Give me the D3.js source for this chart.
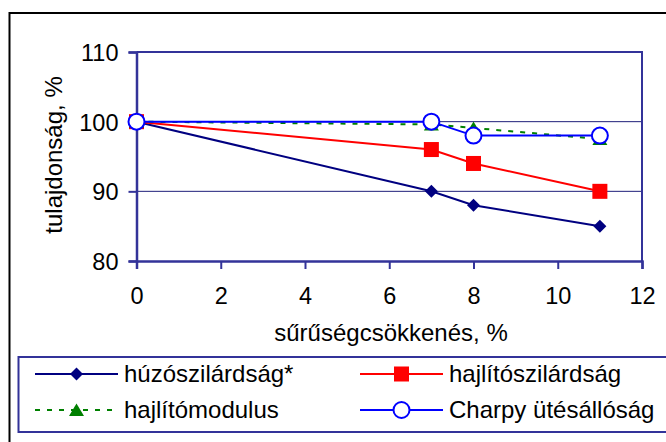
<!DOCTYPE html>
<html>
<head>
<meta charset="utf-8">
<script src="https://cdn.jsdelivr.net/npm/d3@7"></script>
<style>
  body { margin: 0; background: #fff; }
  text { font-family: "Liberation Sans", Arial, sans-serif; fill: #000; }
</style>
</head>
<body>
<div id="plot"></div>
<script>
// data
xs = [0, 7, 8, 11]
huzo = [100, 90, 88, 85]
hajlito = [100, 96, 94, 90]
modulus = [100, 99.6, 99.1, 97.5]
charpy = [100, 100, 98, 98]
names = ["húzószilárdság*", "hajlítószilárdság", "hajlítómodulus", "Charpy ütésállóság"]
xTicks = [0, 2, 4, 6, 8, 10, 12]
yTicks = [80, 90, 100, 110]

W = 666, H = 442
axisColor = "#333399"

svg = d3.select("#plot").append("svg").attr("width", W).attr("height", H)

// outer chart border
svg.append("rect").attr("x", 9.5).attr("y", 13).attr("width", 700).attr("height", 460)
  .attr("fill", "#fff").attr("stroke", "#000").attr("stroke-width", 2)

x = d3.scaleLinear().domain([0, 12]).range([136.5, 642])
y = d3.scaleLinear().domain([80, 110]).range([261, 52])

// gridlines
svg.append("g").selectAll("line").data([90, 100]).join("line")
  .attr("x1", x(0)).attr("x2", x(12)).attr("y1", d => y(d)).attr("y2", d => y(d))
  .attr("stroke", "#1f1f7a").attr("stroke-width", 1)

// plot border top / right
svg.append("path")
  .attr("d", `M${x(0)},${y(110)}H${x(12)}V${y(80)}`)
  .attr("fill", "none").attr("stroke", axisColor).attr("stroke-width", 2)

// axes
xAxis = svg.append("g").attr("transform", `translate(0,${y(80)})`)
  .call(d3.axisBottom(x).tickValues(xTicks).tickSize(8).tickPadding(18))
yAxis = svg.append("g").attr("transform", `translate(${x(0)},0)`)
  .call(d3.axisLeft(y).tickValues(yTicks).tickSize(8).tickPadding(10))
;[xAxis, yAxis].forEach(a => {
  a.select(".domain").attr("stroke", axisColor).attr("stroke-width", 2.5)
  a.selectAll(".tick line").attr("stroke", axisColor).attr("stroke-width", 2)
  a.selectAll(".tick text").attr("font-size", 23.5).attr("font-family", "Liberation Sans, Arial, sans-serif").attr("fill", "#000")
})
yAxis.selectAll(".tick text").attr("dy", "0.36em")

// axis titles
svg.append("text").attr("x", 391).attr("y", 341).attr("text-anchor", "middle")
  .attr("font-size", 24).text("sűrűségcsökkenés, %")
svg.append("text").attr("transform", "translate(62,155) rotate(-90)").attr("text-anchor", "middle")
  .attr("font-size", 24).text("tulajdonság, %")

series = [
  {name: names[0], values: huzo, color: "#000080", dash: null, marker: "diamond"},
  {name: names[1], values: hajlito, color: "#ff0000", dash: null, marker: "square"},
  {name: names[2], values: modulus, color: "#008000", dash: "5,7", marker: "triangle"},
  {name: names[3], values: charpy, color: "#0000ff", dash: null, marker: "circle"}
]

line = d3.line().x(d => x(d[0])).y(d => y(d[1]))

function drawMarker(g, s, cx, cy) {
  if (s.marker === "diamond") {
    g.append("path").attr("d", `M${cx},${cy - 6.5}L${cx + 6.5},${cy}L${cx},${cy + 6.5}L${cx - 6.5},${cy}Z`)
      .attr("fill", s.color)
  } else if (s.marker === "square") {
    g.append("rect").attr("x", cx - 7.5).attr("y", cy - 7.5)
      .attr("width", 15).attr("height", 15).attr("fill", s.color)
  } else if (s.marker === "triangle") {
    g.append("path").attr("d", `M${cx},${cy - 6.5}L${cx + 7.5},${cy + 6}L${cx - 7.5},${cy + 6}Z`)
      .attr("fill", s.color)
  } else {
    g.append("circle").attr("cx", cx).attr("cy", cy).attr("r", 8)
      .attr("fill", "#fff").attr("stroke", s.color).attr("stroke-width", 2)
  }
}

// series
series.forEach(s => {
  pts = xs.map((v, i) => [v, s.values[i]])
  g = svg.append("g")
  g.append("path").attr("d", line(pts)).attr("fill", "none")
    .attr("stroke", s.color).attr("stroke-width", 2)
    .attr("stroke-dasharray", s.dash)
  pts.forEach(p => drawMarker(g, s, x(p[0]), y(p[1])))
})

// legend
svg.append("rect").attr("x", 18.5).attr("y", 357).attr("width", 700).attr("height", 75)
  .attr("fill", "#fff").attr("stroke", axisColor).attr("stroke-width", 2)

legendPos = [[35, 374], [360, 374], [35, 410], [360, 410]]
series.forEach((s, i) => {
  [lx, ly] = legendPos[i]
  g = svg.append("g")
  g.append("line").attr("x1", lx).attr("x2", lx + 83).attr("y1", ly).attr("y2", ly)
    .attr("stroke", s.color).attr("stroke-width", 2).attr("stroke-dasharray", s.dash)
  drawMarker(g, s, lx + 41.5, ly)
  g.append("text").attr("x", lx + 89).attr("y", ly + 8).attr("font-size", 24).text(s.name)
})
</script>
</body>
</html>
